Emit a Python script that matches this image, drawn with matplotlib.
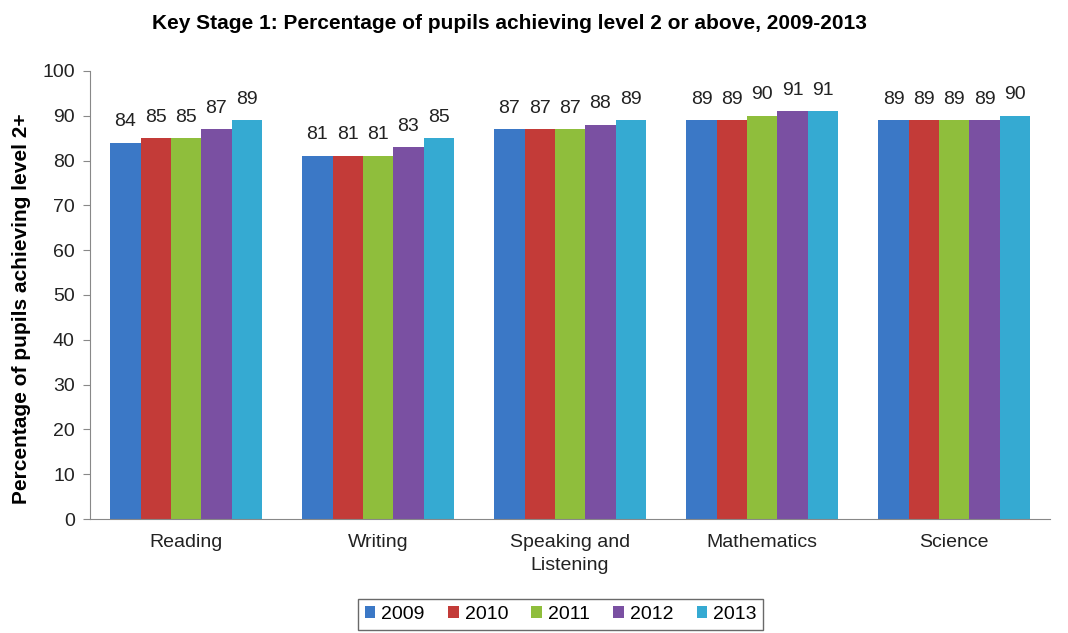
import numpy as np
import matplotlib.pyplot as plt

plt.rcParams['font.family'] = ['Liberation Sans', 'DejaVu Sans']

subjects = ['Reading', 'Writing', 'Speaking and\nListening', 'Mathematics', 'Science']
years = ['2009', '2010', '2011', '2012', '2013']
v2009 = [84, 81, 87, 89, 89]
v2010 = [85, 81, 87, 89, 89]
v2011 = [85, 81, 87, 90, 89]
v2012 = [87, 83, 88, 91, 89]
v2013 = [89, 85, 89, 91, 90]
series = [v2009, v2010, v2011, v2012, v2013]
colors = ['#3B78C6', '#C33B38', '#8FBE3C', '#7A50A2', '#35AAD2']

fig = plt.figure(figsize=(10.68, 6.33), dpi=100)
ax = fig.add_axes([0.0843, 0.180, 0.899, 0.708])

x = np.arange(len(subjects))
w = 0.158
for i, vals in enumerate(series):
    pos = x + (i - 2) * w
    ax.bar(pos, vals, width=w, color=colors[i], label=years[i])
    for p, v in zip(pos, vals):
        ax.text(p, v + 2.8, str(v), ha='center', va='bottom', fontsize=14, color='#222222')

ax.set_xlim(-0.5, len(subjects) - 0.5)
ax.set_ylim(0, 100)
ax.set_yticks(range(0, 101, 10))
ax.set_xticks(x)
ax.set_xticklabels(subjects, fontsize=14, color='#222222')
plt.setp(ax.get_xticklabels(), linespacing=1.4)
ax.tick_params(axis='y', labelsize=14, colors='#222222', length=5, color='#888888', pad=6)
ax.tick_params(axis='x', length=0, pad=11)
for s in ['top', 'right']:
    ax.spines[s].set_visible(False)
ax.spines['left'].set_color('#888888')
ax.spines['bottom'].set_color('#888888')

ax.set_ylabel('Percentage of pupils achieving level 2+', fontsize=15, fontweight='bold')
ax.yaxis.set_label_coords(-0.062, 0.47)
fig.suptitle('Key Stage 1: Percentage of pupils achieving level 2 or above, 2009-2013',
             fontsize=15, fontweight='bold', x=0.477, y=0.978)

leg = fig.legend(loc='lower center', bbox_to_anchor=(0.525, -0.01), ncol=5, fontsize=14,
                 frameon=True, fancybox=False, edgecolor='#444444', handlelength=0.55,
                 handleheight=0.55, handletextpad=0.3, columnspacing=1.2, borderpad=0.35)

fig.savefig('out.png', dpi=100)
